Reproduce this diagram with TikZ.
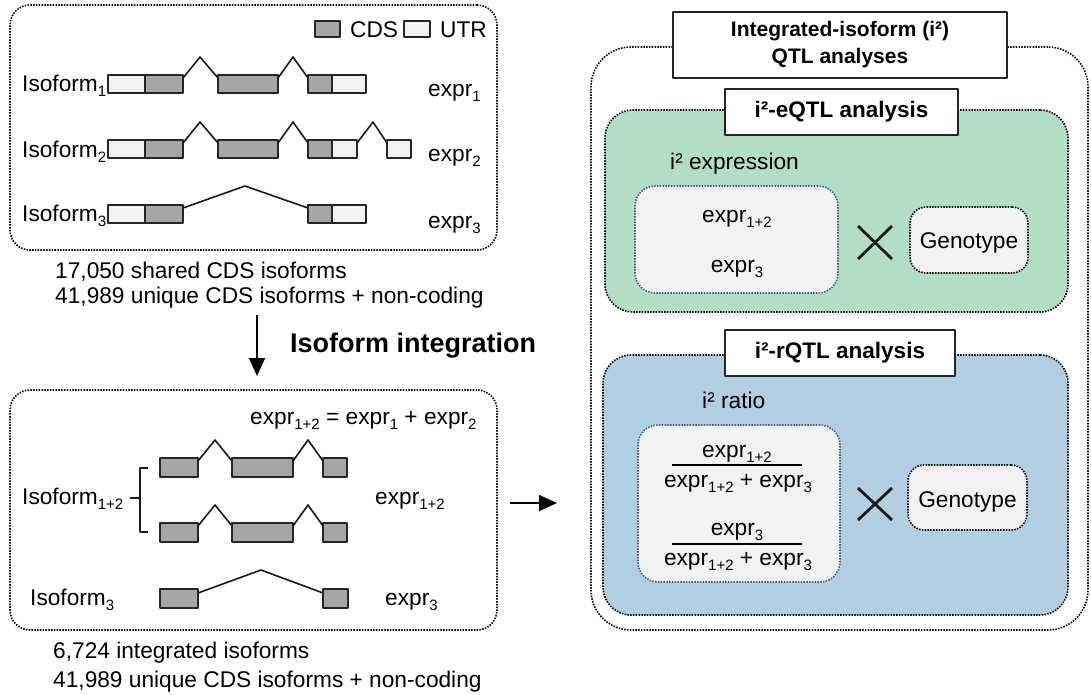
\documentclass[tikz,border=0pt]{standalone}
\usepackage{fontspec}
\setmainfont{Liberation Sans}
\usetikzlibrary{calc,arrows.meta,fit}
\newcommand\mysub[1]{\raisebox{-5pt}{\fontsize{15}{15}\selectfont #1}}
\definecolor{cdsgray}{HTML}{A6A6A6}
\definecolor{utrgray}{HTML}{F2F2F2}
\definecolor{greenbg}{HTML}{B3DEC6}
\definecolor{bluebg}{HTML}{B2CEE2}
\definecolor{innerbg}{HTML}{F2F2F2}
\definecolor{innerline}{HTML}{3F5F88}
\definecolor{linegray}{HTML}{262626}
\begin{document}
\begin{tikzpicture}[x=1pt,y=-1pt,line join=round,
  txt/.style={font=\fontsize{22.7}{26}\selectfont, inner sep=0pt},
  btxt/.style={font=\fontsize{21}{27}\selectfont\bfseries, inner sep=0pt},
  dotframe/.style={draw=black, line width=1.6pt, dash pattern=on 1.5pt off 1.3pt, inner sep=0pt},
  cds/.style={draw=linegray, fill=cdsgray, line width=1.5pt},
  utr/.style={draw=linegray, fill=utrgray, line width=1.5pt},
  intron/.style={draw=black!90, line width=1.6pt},
  labelbox/.style={draw=black!85, fill=white, line width=1.3pt, inner sep=0pt},
  arr/.style={-{Triangle[length=18pt,width=16pt]}, line width=1.6pt},
  crossline/.style={line width=2.8pt, draw=black!90}
]
\useasboundingbox (0,0) rectangle (1091,694);

% ---------- top-left panel ----------
\node[dotframe, rounded corners=20pt, fit={(10,5) (497,250)}] (topbox) {};
\draw[cds] (315,21) rectangle (340,37);
\node[txt, anchor=base west] (lcds) at (350,37) {CDS};
\draw[utr] (404,21) rectangle (430,37);
\node[txt, anchor=base west] (lutr) at (440,37) {UTR};

% isoform 1
\node[txt, anchor=base west] (iso1) at (22,91) {Isoform\mysub{1}};
\draw[utr] (108,75) rectangle (145,93);
\draw[cds] (145,75) rectangle (183,93);
\draw[intron] (183,78) -- (200,57) -- (218,78);
\draw[cds] (218,75) rectangle (278,93);
\draw[intron] (278,78) -- (293,57) -- (308,78);
\draw[cds] (308,75) rectangle (332,93);
\draw[utr] (332,75) rectangle (366,93);
\node[txt, anchor=base west] (ex1) at (428,96) {expr\mysub{1}};

% isoform 2
\node[txt, anchor=base west] (iso2) at (22,157) {Isoform\mysub{2}};
\draw[utr] (108,140) rectangle (145,158);
\draw[cds] (145,140) rectangle (183,158);
\draw[intron] (183,143) -- (200,122) -- (218,143);
\draw[cds] (218,140) rectangle (278,158);
\draw[intron] (278,143) -- (293,122) -- (308,143);
\draw[cds] (308,140) rectangle (332,158);
\draw[utr] (332,140) rectangle (357,158);
\draw[intron] (357,143) -- (373,122) -- (387,143);
\draw[utr] (387,140) rectangle (411,158);
\node[txt, anchor=base west] (ex2) at (428,161) {expr\mysub{2}};

% isoform 3
\node[txt, anchor=base west] (iso3) at (22,221) {Isoform\mysub{3}};
\draw[utr] (108,205) rectangle (145,223);
\draw[cds] (145,205) rectangle (183,223);
\draw[intron] (183,208) -- (245,186) -- (308,208);
\draw[cds] (308,205) rectangle (332,223);
\draw[utr] (332,205) rectangle (366,223);
\node[txt, anchor=base west] (ex3) at (428,228) {expr\mysub{3}};

\node[txt, anchor=base west] (st1) at (55,278) {17,050 shared CDS isoforms};
\node[txt, anchor=base west] (st2) at (55,303) {41,989 unique CDS isoforms + non-coding};

% ---------- arrow down ----------
\coordinate (dstart) at (257,315);
\coordinate (dend) at (257,376);
\draw[arr] (dstart) -- (dend);
\node[font=\fontsize{27}{30}\selectfont\bfseries, inner sep=0pt, anchor=base west] (integ) at (290,352) {Isoform integration};

% ---------- bottom-left panel ----------
\node[dotframe, rounded corners=20pt, fit={(10,390) (497,630)}] (botbox) {};
\node[txt, anchor=base west] (formula) at (250,424) {expr\mysub{1+2} = expr\mysub{1} + expr\mysub{2}};

\draw[cds] (160,458) rectangle (198,477);
\draw[intron] (198,461) -- (215,440) -- (232,461);
\draw[cds] (232,458) rectangle (293,477);
\draw[intron] (293,461) -- (308,440) -- (323,461);
\draw[cds] (323,458) rectangle (347,477);

\draw[cds] (160,523) rectangle (198,542);
\draw[intron] (198,526) -- (215,505) -- (232,526);
\draw[cds] (232,523) rectangle (293,542);
\draw[intron] (293,526) -- (308,505) -- (323,526);
\draw[cds] (323,523) rectangle (347,542);

\draw[intron] (148,468) -- (140,468) -- (140,532) -- (148,532);
\draw[intron] (130,498) -- (140,498);
\node[txt, anchor=base west] (iso12) at (22,504) {Isoform\mysub{1+2}};
\node[txt, anchor=base west] (ex12) at (375,504) {expr\mysub{1+2}};

\draw[cds] (160,589) rectangle (198,608);
\draw[intron] (198,593) -- (261,570) -- (323,593);
\draw[cds] (323,589) rectangle (348,608);
\node[txt, anchor=base west] (iso3b) at (30,605) {Isoform\mysub{3}};
\node[txt, anchor=base west] (ex3b) at (385,605) {expr\mysub{3}};

\node[txt, anchor=base west] (st3) at (53,658) {6,724 integrated isoforms};
\node[txt, anchor=base west] (st4) at (53,687) {41,989 unique CDS isoforms + non-coding};

% ---------- arrow right ----------
\coordinate (rstart) at (510,503);
\coordinate (rend) at (557,503);
\draw[arr] (rstart) -- (rend);

% ---------- right panel ----------
\node[dotframe, rounded corners=40pt, fit={(591,47) (1088,630)}] (outer) {};

% eQTL
\node[dotframe, fill=greenbg, rounded corners=28pt, fit={(605,110) (1068,312)}] (green) {};
\node[labelbox, fit={(725,89) (958,135)}] (eqtlbox) {};
\node[btxt, font=\fontsize{22.5}{26}\selectfont\bfseries] (eqtl) at (eqtlbox.center) {i²-eQTL analysis};
\node[txt, anchor=base west] (iexpr) at (670,169) {i² expression};
\node[dotframe, draw=innerline, fill=innerbg, rounded corners=20pt, fit={(635,186) (838,293)}] (exprbox) {};
\node[txt, anchor=base] (e12) at (737,222) {expr\mysub{1+2}};
\node[txt, anchor=base] (e3) at (737,272) {expr\mysub{3}};
\draw[crossline] (858,226) -- (892,259);
\draw[crossline] (858,259) -- (892,226);
\node[dotframe, fill=innerbg, rounded corners=16pt, fit={(910,207) (1028,273)}] (geno1) {};
\node[txt, anchor=base] (g1) at (969,248) {Genotype};

% rQTL
\node[dotframe, fill=bluebg, rounded corners=28pt, fit={(603,355) (1068,615)}] (blue) {};
\node[labelbox, fit={(725,330) (955,376)}] (rqtlbox) {};
\node[btxt, font=\fontsize{22.5}{26}\selectfont\bfseries] (rqtl) at (rqtlbox.center) {i²-rQTL analysis};
\node[txt, anchor=base west] (iratio) at (702,408) {i² ratio};
\node[dotframe, draw=innerline, fill=innerbg, rounded corners=20pt, fit={(638,425) (840,582)}] (ratiobox) {};
\node[txt, anchor=base] (n1) at (737,457) {expr\mysub{1+2}};
\draw[line width=1.5pt] (672,465) -- (802,465);
\node[txt, anchor=base] (d1) at (738,487) {expr\mysub{1+2} + expr\mysub{3}};
\node[txt, anchor=base] (n2) at (737,535) {expr\mysub{3}};
\draw[line width=1.5pt] (672,544) -- (802,544);
\node[txt, anchor=base] (d2) at (738,565) {expr\mysub{1+2} + expr\mysub{3}};
\draw[crossline] (858,488) -- (892,520);
\draw[crossline] (858,520) -- (892,488);
\node[dotframe, fill=innerbg, rounded corners=16pt, fit={(908,465) (1027,530)}] (geno2) {};
\node[txt, anchor=base] (g2) at (967.5,507) {Genotype};

% title
\node[labelbox, fit={(673,12) (1007,78)}] (titlebox) {};
\node[btxt, align=center] (title) at (840,45) {Integrated-isoform (i²)\\QTL analyses};
\end{tikzpicture}
\end{document}
